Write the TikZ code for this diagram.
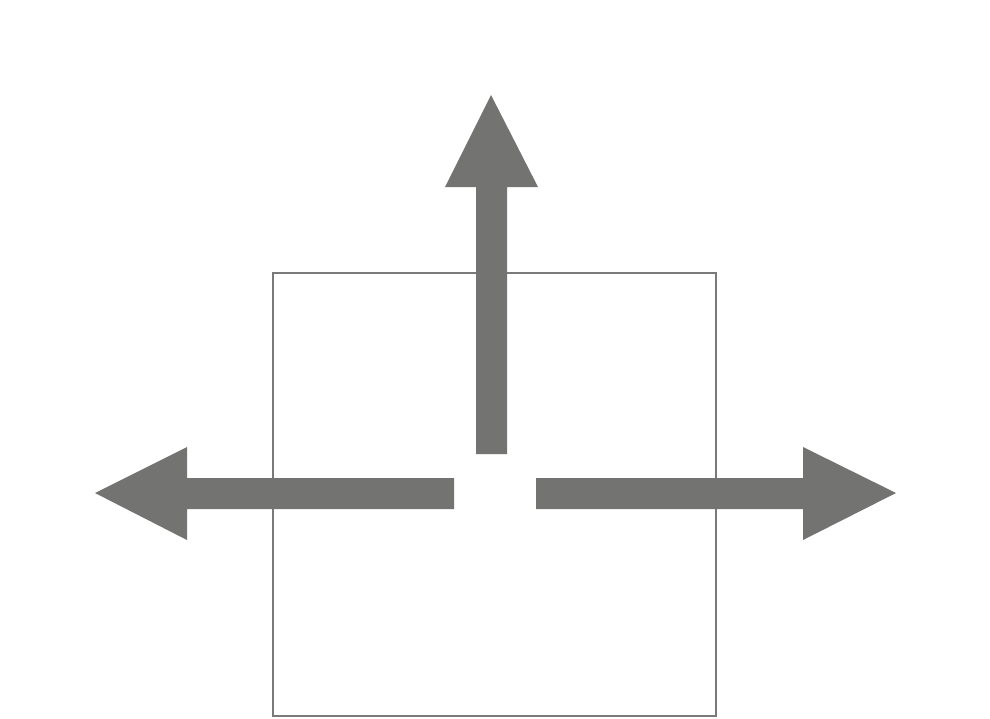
\documentclass[tikz,border=0pt]{standalone}
\begin{document}
\begin{tikzpicture}[x=1pt,y=-1pt,
  arrowfill/.style={fill=arrowgray,draw=none},
  boxline/.style={draw=boxgray,line width=2pt}]
\definecolor{arrowgray}{HTML}{737471}
\definecolor{boxgray}{HTML}{7A7A7A}
\useasboundingbox (0,0) rectangle (990,718);
\fill[white] (0,0) rectangle (990,718);
% box
\draw[boxline] (273,273) rectangle (716,716);
% up arrow
\fill[arrowfill] (476,454) -- (476,187) -- (445,187) -- (491,95) -- (538,187) -- (507,187) -- (507,454) -- cycle;
% left arrow
\fill[arrowfill] (454,478) -- (187,478) -- (187,447) -- (95,493) -- (187,540) -- (187,509) -- (454,509) -- cycle;
% right arrow
\fill[arrowfill] (536,478) -- (803,478) -- (803,447) -- (896,493) -- (803,540) -- (803,509) -- (536,509) -- cycle;
\end{tikzpicture}
\end{document}
